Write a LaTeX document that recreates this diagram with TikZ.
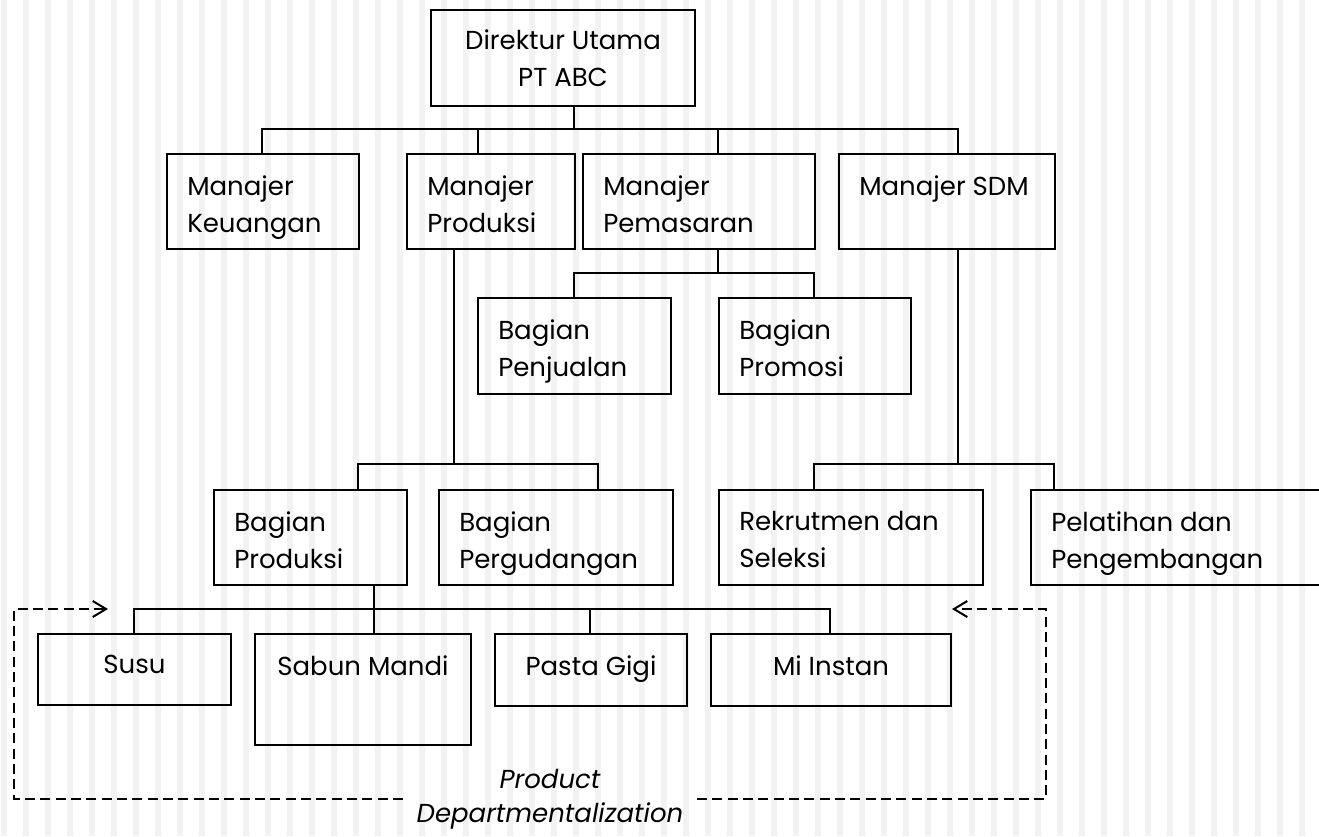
\documentclass[tikz,border=0pt]{standalone}
\usepackage{fontspec}
\setmainfont{Poppins}
\usetikzlibrary{arrows.meta}

\newcommand{\orgfont}{\fontsize{19.5pt}{27.75pt}\selectfont}
\definecolor{stripegray}{HTML}{F2F2F2}

\tikzset{
  box/.style={draw, line width=1.5pt, inner sep=0pt, anchor=north west},
  wh/.style 2 args={minimum width={#1*0.75pt}, minimum height={#2*0.75pt}},
  lbl/.style={anchor=north west, align=left, inner sep=0pt, xshift=15.75pt, yshift=-16.5pt},
  clbl/.style={anchor=north, align=center, inner sep=0pt, yshift=-16.5pt},
  conn/.style={line width=1.5pt},
  dline/.style={line width=1.5pt, dash pattern=on 7.5pt off 4pt},
}

\begin{document}
\begin{tikzpicture}[x=0.75pt,y=-0.75pt,font=\orgfont]
\useasboundingbox (0,0) rectangle (1319,836);
% background stripes
\foreach \i in {0,...,59}
  \fill[stripegray] ({1+22*\i},0) rectangle ++(6,836);

% boxes
\node[box,wh={264}{96},align=center] (dir) at (430,9) {Direktur Utama\\PT ABC};
\node[box,wh={192}{95},label={[lbl]north west:Manajer\\Keuangan}] (keu) at (166,153) {};
\node[box,wh={168}{95},label={[lbl]north west:Manajer\\Produksi}] (prod) at (406,153) {};
\node[box,wh={232}{95},label={[lbl]north west:Manajer\\Pemasaran}] (pem) at (582,153) {};
\node[box,wh={216}{95},label={[lbl]north west:Manajer SDM}] (sdm) at (838,153) {};
\node[box,wh={193}{96},label={[lbl]north west:Bagian\\Penjualan}] (penj) at (477,297) {};
\node[box,wh={192}{96},label={[lbl]north west:Bagian\\Promosi}] (prom) at (718,297) {};
\node[box,wh={193}{95},label={[lbl]north west:Bagian\\Produksi}] (bprod) at (213,489) {};
\node[box,wh={234}{95},label={[lbl]north west:Bagian\\Pergudangan}] (gud) at (438,489) {};
\node[box,wh={264}{95},label={[lbl]north west:Rekrutmen dan\\Seleksi}] (rek) at (718,489) {};
\node[box,wh={320}{95},label={[lbl]north west:Pelatihan dan\\Pengembangan}] (pel) at (1030,489) {};
\node[box,wh={193}{71},label={[clbl]north:Susu}] (susu) at (37,633) {};
\node[box,wh={216}{111},label={[clbl]north:Sabun Mandi}] (sabun) at (254,633) {};
\node[box,wh={192}{72},label={[clbl]north:Pasta Gigi}] (pasta) at (494,633) {};
\node[box,wh={240}{72},label={[clbl]north:Mi Instan}] (mi) at (710,633) {};

% connectors
\coordinate (t0) at (574,129);
\coordinate (t1) at (718,273);
\coordinate (t2) at (454,464);
\coordinate (t3) at (958,464);
\coordinate (t4) at (374,609);
\draw[conn] (dir.south -| t0) -- (t0);
\foreach \n/\x in {keu/262,prod/478,pem/718,sdm/958}
  \draw[conn] (t0) -- (\x,129) -- (\n.north -| \x,0);
\draw[conn] (pem.south -| t1) -- (t1);
\foreach \n/\x in {penj/574,prom/814}
  \draw[conn] (t1) -- (\x,273) -- (\n.north -| \x,0);
\draw[conn] (prod.south -| t2) -- (t2);
\foreach \n/\x in {bprod/358,gud/598}
  \draw[conn] (t2) -- (\x,464) -- (\n.north -| \x,0);
\draw[conn] (sdm.south -| t3) -- (t3);
\foreach \n/\x in {rek/814,pel/1054}
  \draw[conn] (t3) -- (\x,464) -- (\n.north -| \x,0);
\draw[conn] (bprod.south -| t4) -- (t4);
\foreach \n/\x in {susu/134,sabun/374,pasta/590,mi/830}
  \draw[conn] (t4) -- (\x,609) -- (\n.north -| \x,0);

% product departmentalization
\node[align=center,font=\orgfont\itshape,inner sep=10pt] (pd) at (550,799) {Product\\[-2pt]Departmentalization};
\coordinate (lc) at (14,609);
\coordinate (la) at (108,609);
\coordinate (rc) at (1046,609);
\coordinate (ra) at (952,609);
\draw[dline,-{Straight Barb[length=10pt,width=12pt]}] (pd.west) -| (lc) -- (la);
\draw[dline,-{Straight Barb[length=10pt,width=12pt]}] (pd.east) -| (rc) -- (ra);
\end{tikzpicture}
\end{document}
